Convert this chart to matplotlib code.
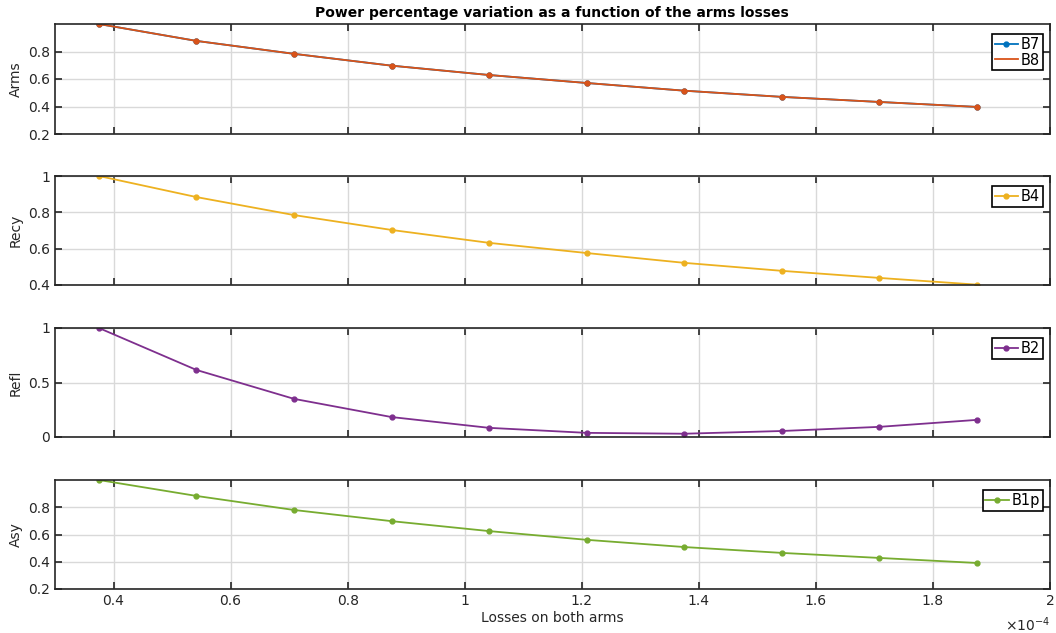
import matplotlib
matplotlib.use("Agg")
import matplotlib.pyplot as plt
from matplotlib.lines import Line2D
import numpy as np

# losses on both arms (x 1e-4)
losses = [0.375, 0.5417, 0.7083, 0.875, 1.0417, 1.2083, 1.375, 1.5417, 1.7083, 1.875]

arms_b7 = [1.0, 0.877, 0.783, 0.697, 0.629, 0.571, 0.515, 0.470, 0.433, 0.397]
arms_b8 = [1.0, 0.877, 0.783, 0.697, 0.629, 0.571, 0.515, 0.470, 0.433, 0.397]
recy_b4 = [1.0, 0.884, 0.785, 0.703, 0.632, 0.576, 0.522, 0.478, 0.439, 0.402]
refl_b2 = [1.0, 0.615, 0.350, 0.183, 0.084, 0.038, 0.030, 0.055, 0.093, 0.157]
asy_b1p = [1.0, 0.883, 0.780, 0.698, 0.625, 0.561, 0.508, 0.465, 0.428, 0.391]

blue = "#0072BD"
orange = "#D95319"
yellow = "#EDB120"
purple = "#7E2F8E"
green = "#77AC30"

plt.rcParams['font.family'] = 'DejaVu Sans'
plt.rcParams['font.size'] = 9

fig = plt.figure(figsize=(10.56, 6.33), dpi=100)

W, H = 1056.0, 633.0
left, right = 55, 1050
boxes = [(24, 134), (176, 285), (328, 437), (480, 589)]
axes = []
for top, bot in boxes:
    ax = fig.add_axes([left / W, 1 - bot / H, (right - left) / W, (bot - top) / H])
    axes.append(ax)

x = np.array(losses) * 1e-4
mk = dict(marker='.', markersize=7, linewidth=1.3)

ax1, ax2, ax3, ax4 = axes
ax1.plot(x, arms_b7, color=blue, label='B7', **mk)
ax1.plot(x, arms_b8, color=orange, label='B8', **mk)
ax1.set_ylim(0.2, 1.0)
ax1.set_yticks([0.2, 0.4, 0.6, 0.8])
ax1.set_ylabel('Arms')

ax2.plot(x, recy_b4, color=yellow, label='B4', **mk)
ax2.set_ylim(0.4, 1.0)
ax2.set_yticks([0.4, 0.6, 0.8, 1.0])
ax2.set_yticklabels(['0.4', '0.6', '0.8', '1'])
ax2.set_ylabel('Recy')

ax3.plot(x, refl_b2, color=purple, label='B2', **mk)
ax3.set_ylim(0, 1.0)
ax3.set_yticks([0, 0.5, 1.0])
ax3.set_yticklabels(['0', '0.5', '1'])
ax3.set_ylabel('Refl')

ax4.plot(x, asy_b1p, color=green, label='B1p', **mk)
ax4.set_ylim(0.2, 1.0)
ax4.set_yticks([0.2, 0.4, 0.6, 0.8])
ax4.set_ylabel('Asy')

xt = np.arange(0.4, 2.01, 0.2) * 1e-4
for ax in axes:
    ax.set_xlim(0.3e-4, 2.0e-4)
    ax.set_xticks(xt)
    ax.grid(True, color='#d9d9d9', linewidth=1)
    ax.set_axisbelow(True)
    ax.tick_params(direction='in', top=True, right=True, length=5, width=1.2,
                   colors='#262626', labelsize=10)
    for s in ax.spines.values():
        s.set_color('#262626')
        s.set_linewidth(1.2)
    ax.yaxis.label.set_color('#262626')
    ax.yaxis.label.set_size(10)
    handles, labels = ax.get_legend_handles_labels()
    if ax is ax1:
        # B8 shows only its line in the legend
        handles[1] = Line2D([], [], color=orange, linewidth=1.3)
    leg = ax.legend(handles, labels, loc='upper right', bbox_to_anchor=(0.993, 0.91),
                    fancybox=False, edgecolor='black', framealpha=1, fontsize=10.5,
                    handlelength=1.6, handletextpad=0.2, borderpad=0.2,
                    labelspacing=0.05, borderaxespad=0)
    leg.get_frame().set_linewidth(1.2)
    if ax is not ax4:
        ax.tick_params(labelbottom=False)

ax4.set_xticklabels(['0.4', '0.6', '0.8', '1', '1.2', '1.4', '1.6', '1.8', '2'])
ax4.set_xlabel('Losses on both arms', fontsize=10, color='#262626', labelpad=2)
fig.text(1050 / W, 1 - 625 / H, r'$\times10^{-4}$', ha='right', va='center',
         fontsize=10, color='#262626')

fig.text(552 / W, 1 - 13 / H, 'Power percentage variation as a function of the arms losses',
         ha='center', va='center', fontsize=10, fontweight='bold')

fig.savefig('out.png', dpi=100)
